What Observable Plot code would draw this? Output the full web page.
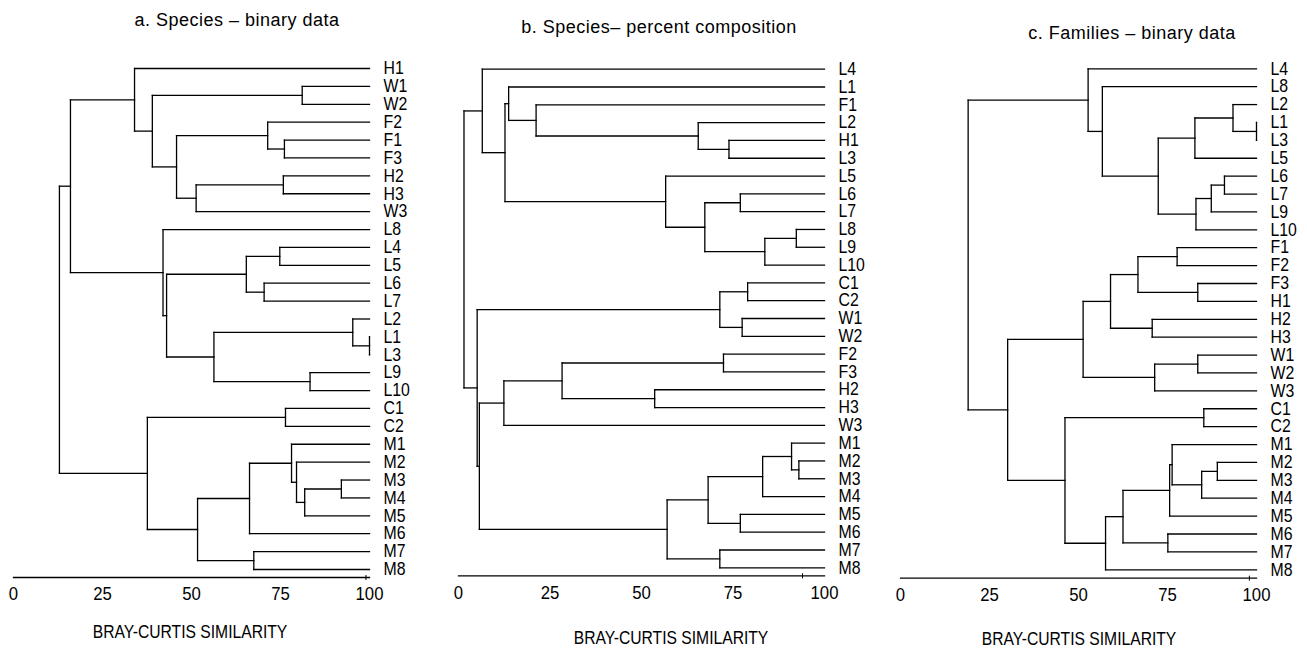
<!DOCTYPE html>
<html><head><meta charset="utf-8">
<script src="https://cdn.jsdelivr.net/npm/d3@7"></script>
<script src="https://cdn.jsdelivr.net/npm/@observablehq/plot@0.6"></script>
<style>
body{margin:0;background:#fff;}
#wrap{position:relative;width:1307px;height:650px;overflow:hidden;color:#000;background:#fff;}
.t{position:absolute;white-space:nowrap;font-family:"Liberation Sans",Arial,sans-serif;font-size:18px;}
.title{line-height:19px;letter-spacing:0.5px;transform:translateX(-50%);}
.xl{line-height:14px;transform:translateX(-50%) scaleX(0.87);transform-origin:50% 50%;}
.p{position:absolute;}
</style></head><body><div id="wrap"></div>
<script>
// ---- data ----
const titles = ["a.  Species \u2013 binary data", "b. Species\u2013 percent composition", "c. Families \u2013 binary data"];
const axisTitle = "BRAY-CURTIS SIMILARITY";
const tickValues = [0, 25, 50, 75, 100];

const leavesA = ["H1","W1","W2","F2","F1","F3","H2","H3","W3","L8","L4","L5","L6","L7","L2","L1","L3","L9","L10","C1","C2","M1","M2","M3","M4","M5","M6","M7","M8"];
const mergesA = [
  ["W1","W2",81.1],["F1","F3",76.1],["F2","#1",71.4],["H2","H3",75.8],["#3","W3",51.3],
  ["#2","#4",45.8],["#0","#5",39.0],["H1","#6",34.0],["L4","L5",74.8],["L6","L7",70.4],
  ["#8","#9",65.4],["L1","L3",100],["L2","#11",95.3],["L9","L10",83.3],["#12","#13",56.3],
  ["#10","#14",43.0],["L8","#15",42.0],["#7","#16",16.0],["C1","C2",76.4],["M3","M4",92.1],
  ["#19","M5",81.8],["M2","#20",79.5],["M1","#21",78.1],["#22","M6",66.3],["M7","M8",67.5],
  ["#23","#24",51.7],["#18","#25",37.6],["#17","#26",12.9]
];

const leavesB = ["L4","L1","F1","L2","H1","L3","L5","L6","L7","L8","L9","L10","C1","C2","W1","W2","F2","F3","H2","H3","W3","M1","M2","M3","M4","M5","M6","M7","M8"];
const mergesB = [
  ["H1","L3",73.9],["L2","#0",65.5],["F1","#1",21.2],["L1","#2",13.7],["L6","L7",77.0],
  ["L8","L9",92.3],["#5","L10",83.7],["#4","#6",67.3],["L5","#7",56.6],["#3","#8",12.7],
  ["L4","#9",6.5],["C1","C2",79.0],["W1","W2",77.5],["#11","#12",71.4],["F2","F3",72.4],
  ["H2","H3",53.6],["#14","#15",28.3],["#16","W3",12.4],["M2","M3",93.0],["M1","#18",91.0],
  ["#19","M4",83.1],["M5","M6",77.0],["#20","#21",68.2],["M7","M8",71.4],["#22","#23",57.0],
  ["#17","#24",5.7],["#13","#25",5.1],["#10","#26",1.5]
];

const leavesC = ["L4","L8","L2","L1","L3","L5","L6","L7","L9","L10","F1","F2","F3","H1","H2","H3","W1","W2","W3","C1","C2","M1","M2","M3","M4","M5","M6","M7","M8"];
const mergesC = [
  ["L1","L3",100],["L2","#0",93.4],["#1","L5",82.7],["L6","L7",91.0],["#3","L9",87.3],
  ["#4","L10",83.0],["#2","#5",72.4],["L8","#6",56.7],["L4","#7",52.7],["F1","F2",77.7],
  ["F3","H1",83.5],["#9","#10",66.7],["H2","H3",70.7],["#11","#12",59.0],["W1","W2",83.5],
  ["#14","W3",71.4],["#13","#15",51.3],["C1","C2",85.2],["M2","M3",89.0],["#18","M4",84.6],
  ["M1","#19",76.3],["#20","M5",75.6],["M6","M7",75.1],["#21","#22",62.5],["#23","M8",57.6],
  ["#17","#24",46.2],["#16","#25",30.1],["#8","#26",19.0]
];

const axisMarks = [[99], [94], [98]];

// ---- layout (positions only) ----
const panels = [
  {leaves: leavesA, merges: mergesA, left: 0,   width: 440, mL: 13, mR: 71, top: 40, mT: 28,   frameB: 537,   inset: 8,
   title: [237, 11], xl: [189.5, 631.5]},
  {leaves: leavesB, merges: mergesB, left: 440, width: 440, mL: 18, mR: 56, top: 40, mT: 28.7, frameB: 535.3, inset: 8,
   title: [659, 18], xl: [671, 637.5]},
  {leaves: leavesC, merges: mergesC, left: 870, width: 437, mL: 30, mR: 51, top: 40, mT: 28.3, frameB: 537.7, inset: 8.4,
   title: [1132, 24], xl: [1079, 638.5]}
];

function dendroSegments(leaves, merges) {
  const pos = new Map(leaves.map((d, i) => [d, {y: i, x: 100}]));
  const segs = [];
  merges.forEach(([a, b, h], k) => {
    const A = pos.get(a), B = pos.get(b);
    segs.push({x1: h, y1: A.y, x2: A.x, y2: A.y});
    segs.push({x1: h, y1: B.y, x2: B.x, y2: B.y});
    segs.push({x1: h, y1: A.y, x2: h, y2: B.y});
    pos.set("#" + k, {y: (A.y + B.y) / 2, x: h});
  });
  return segs;
}

function squeeze(svg, label, s) {
  svg.querySelectorAll(`g[aria-label="${label}"] text`).forEach(t => {
    const tr = t.getAttribute("transform") || "";
    t.setAttribute("transform", tr + ` scale(${s},1)`);
  });
}

const wrap = document.getElementById("wrap");
const FONT = "'Liberation Sans', Arial, sans-serif";
panels.forEach((p, i) => {
  const segs = dendroSegments(p.leaves, p.merges);
  const mB = 40;
  const height = p.frameB + mB;
  const svg = Plot.plot({
    width: p.width, height,
    marginLeft: p.mL, marginRight: p.mR, marginTop: p.mT, marginBottom: mB,
    insetBottom: p.inset,
    style: {fontFamily: FONT, fontSize: "18px", background: "transparent", overflow: "visible", color: "#000"},
    x: {domain: [0, 100]},
    y: {domain: [0, p.leaves.length - 1], reverse: true},
    marks: [
      Plot.link(segs, {x1: "x1", y1: "y1", x2: "x2", y2: "y2", stroke: "#000", strokeWidth: 1.3, strokeLinecap: "square"}),
      Plot.axisY(d3.range(p.leaves.length), {anchor: "right", tickSize: 0, tickPadding: 14, tickFormat: j => p.leaves[j], label: null, fontSize: 18, fontFamily: FONT, fill: "#000"}),
      Plot.axisX(tickValues, {anchor: "bottom", tickSize: 0, tickPadding: 10, tickFormat: d => String(d), label: null, fontSize: 18, fontFamily: FONT, fill: "#000"}),
      Plot.frame({anchor: "bottom", stroke: "#000", strokeWidth: 1.3}),
      Plot.ruleX(axisMarks[i], {x: d => d, stroke: "#000", strokeWidth: 1, insetTop: height - p.mT - mB - 2, insetBottom: -3})
    ]
  });
  squeeze(svg, "y-axis tick label", 0.88);
  squeeze(svg, "x-axis tick label", 0.93);
  svg.classList.add("p");
  svg.style.left = p.left + "px";
  svg.style.top = p.top + "px";
  wrap.appendChild(svg);

  const t = document.createElement("div");
  t.className = "t title";
  t.textContent = titles[i];
  t.style.left = p.title[0] + "px";
  t.style.top = p.title[1] + "px";
  wrap.appendChild(t);

  const xl = document.createElement("div");
  xl.className = "t xl";
  xl.textContent = axisTitle;
  xl.style.left = p.xl[0] + "px";
  xl.style.top = (p.xl[1] - 6.8) + "px";
  wrap.appendChild(xl);
});
</script>
</body></html>
